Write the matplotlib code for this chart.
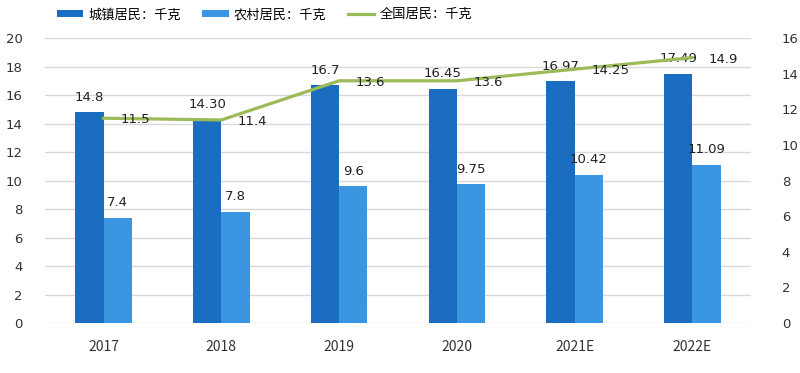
import matplotlib.pyplot as plt
import numpy as np

plt.rcParams['font.family'] = ['Noto Sans CJK SC', 'DejaVu Sans']

years = ['2017', '2018', '2019', '2020', '2021E', '2022E']
urban = [14.8, 14.30, 16.7, 16.45, 16.97, 17.49]
rural = [7.4, 7.8, 9.6, 9.75, 10.42, 11.09]
national = [11.5, 11.4, 13.6, 13.6, 14.25, 14.9]
urban_txt = ['14.8', '14.30', '16.7', '16.45', '16.97', '17.49']
rural_txt = ['7.4', '7.8', '9.6', '9.75', '10.42', '11.09']
national_txt = ['11.5', '11.4', '13.6', '13.6', '14.25', '14.9']

c_dark = '#1a6dc0'
c_light = '#3b96e2'
c_green = '#9bbb59'
num_font = ['DejaVu Sans']

fig = plt.figure(figsize=(8, 3.73), dpi=100)
ax = fig.add_axes([0.056, 0.134, 0.883, 0.764])
ax2 = ax.twinx()

x = np.arange(len(years))
w = 0.24
b1 = ax.bar(x - w / 2, urban, w, color=c_dark, label='城镇居民：千克', zorder=3)
b2 = ax.bar(x + w / 2, rural, w, color=c_light, label='农村居民：千克', zorder=3)
ln, = ax2.plot(x, national, color=c_green, lw=2.3, label='全国居民：千克', zorder=4)

for i in range(len(x)):
    ax.text(x[i] - w / 2, urban[i] + 0.6, urban_txt[i], ha='center', va='bottom',
            fontsize=9.5, color='#222222', family=num_font)
    ax.text(x[i] + w / 2, rural[i] + 0.6, rural_txt[i], ha='center', va='bottom',
            fontsize=9.5, color='#222222', family=num_font)
    ax2.text(x[i] + 0.14, national[i] - 0.1, national_txt[i], ha='left', va='center',
             fontsize=9.5, color='#222222', family=num_font, zorder=5)

ax.set_xlim(-0.5, len(years) - 0.5)
ax.set_ylim(0, 20)
ax.set_yticks(np.arange(0, 21, 2))
ax2.set_ylim(0, 16)
ax2.set_yticks(np.arange(0, 17, 2))
ax.set_xticks(x)
ax.set_xticklabels(years, fontsize=10)

ax.grid(axis='y', color='#d9d9d9', lw=1, zorder=0)
for a in (ax, ax2):
    for s in a.spines.values():
        s.set_visible(False)
    a.tick_params(length=0, colors='#333333')
for lab in ax.get_yticklabels() + ax2.get_yticklabels():
    lab.set_family(num_font)
    lab.set_fontsize(9.5)
ax.tick_params(axis='x', pad=12)
ax.tick_params(axis='y', pad=16)
ax2.tick_params(axis='y', pad=22)

fig.legend(handles=[b1, b2, ln], loc='upper left', bbox_to_anchor=(0.056, 1.01),
           ncol=3, frameon=False, fontsize=9.5, handlelength=2.0,
           handleheight=0.55, columnspacing=1.6, handletextpad=0.4)

fig.savefig('out.png', dpi=100)
